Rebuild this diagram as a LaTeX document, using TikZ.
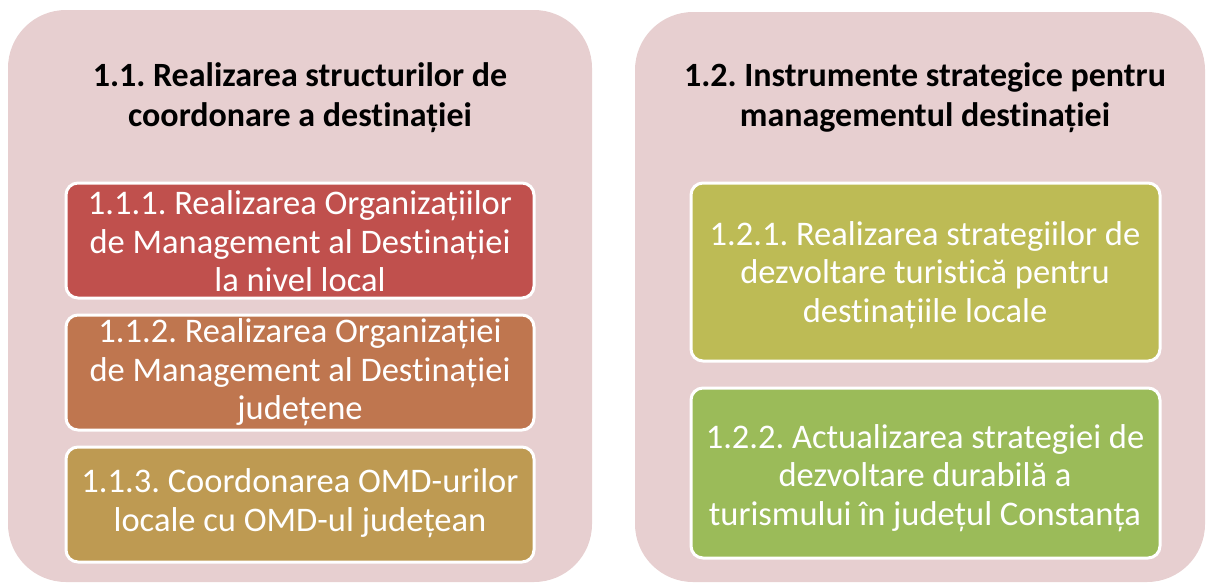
\documentclass[tikz,border=0pt]{standalone}
\usepackage{fontspec}
\setmainfont{Carlito}[Ligatures={NoCommon}]
\definecolor{panelpink}{HTML}{E7CFD0}
\definecolor{cRed}{HTML}{C0504D}
\definecolor{cOrange}{HTML}{BF764F}
\definecolor{cGold}{HTML}{BE9A52}
\definecolor{cOlive}{HTML}{BDBB55}
\definecolor{cGreen}{HTML}{9BBB59}
\tikzset{
  panel/.style={fill=panelpink, draw=none, rounded corners=58pt},
  itembox/.style={draw=white, line width=3pt, rounded corners=12pt},
  titletext/.style={font=\fontsize{34}{40}\selectfont\bfseries\frenchspacing, align=center, text=black},
  itemtext/.style={font=\fontsize{34.5}{38.5}\selectfont\frenchspacing, align=center, text=white},
}
\begin{document}
\begin{tikzpicture}[x=1pt,y=-1pt]
\useasboundingbox (0,0) rectangle (1207,582);
% panels
\path[panel] (8,10) rectangle (592,582);
\path[panel] (635,12) rectangle (1205,582);
% left panel title
\node[titletext] (t11) at (300,98) {1.1. Realizarea structurilor de\\coordonare a destinației};
% left items
\path[itembox, fill=cRed] (66,183) rectangle (534,298);
\node[itemtext] (b111) at (300,241.5) {1.1.1. Realizarea Organizațiilor\\de Management al Destinației\\la nivel local};
\path[itembox, fill=cOrange] (66,315) rectangle (534,430);
\node[itemtext] (b112) at (300,372.5) {1.1.2. Realizarea Organizației\\de Management al Destinației\\județene};
\path[itembox, fill=cGold] (66,447) rectangle (534,562);
\node[itemtext] (b113) at (300,503) {1.1.3. Coordonarea OMD-urilor\\locale cu OMD-ul județean};
% right panel title
\node[titletext] (t12) at (925,98) {1.2. Instrumente strategice pentru\\managementul destinației};
% right items
\path[itembox, fill=cOlive] (691,183) rectangle (1160,361);
\node[itemtext] (b121) at (925,275) {1.2.1. Realizarea strategiilor de\\dezvoltare turistică pentru\\destinațiile locale};
\path[itembox, fill=cGreen] (691,388) rectangle (1160,558);
\node[itemtext] (b122) at (925,478) {1.2.2. Actualizarea strategiei de\\dezvoltare durabilă a\\turismului în județul Constanța};
\end{tikzpicture}
\end{document}
